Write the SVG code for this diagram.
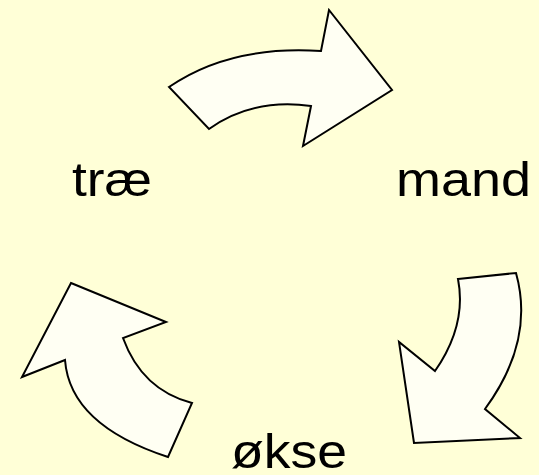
<svg xmlns="http://www.w3.org/2000/svg" width="539" height="475" viewBox="0 0 539 475">
<style>
.arrow{fill:#FFFFF3;stroke:#000;stroke-width:2;stroke-linejoin:miter}
.lbl{font-family:"Liberation Sans",Arial,sans-serif;font-size:49px;fill:#000}
</style>
<rect width="539" height="475" fill="#FFFFD7"/>
<g id="connectors">
<path id="arrow-top" class="arrow" d="M169,87 Q230,45 321,51 L329,10 L392,90 L303,146 L311,106 Q252,98 209,129 Z"/>
<path id="arrow-right" class="arrow" d="M458,279 L516,273 Q535,341 485,409 L520,438 L414,443 L399,342 L435,371 Q467,325 458,279 Z"/>
<path id="arrow-left" class="arrow" d="M71,283 L166,322 L123,338 Q142,390 192,403 L168,457 Q70,425 65,360 L22,377 Z"/>
</g>
<g id="node-trae"><text class="lbl" x="72" y="196" textLength="80" lengthAdjust="spacingAndGlyphs">træ</text></g>
<g id="node-mand"><text class="lbl" x="396" y="196" textLength="135" lengthAdjust="spacingAndGlyphs">mand</text></g>
<g id="node-okse"><text class="lbl" x="231" y="468" textLength="116" lengthAdjust="spacingAndGlyphs">økse</text></g>
</svg>
